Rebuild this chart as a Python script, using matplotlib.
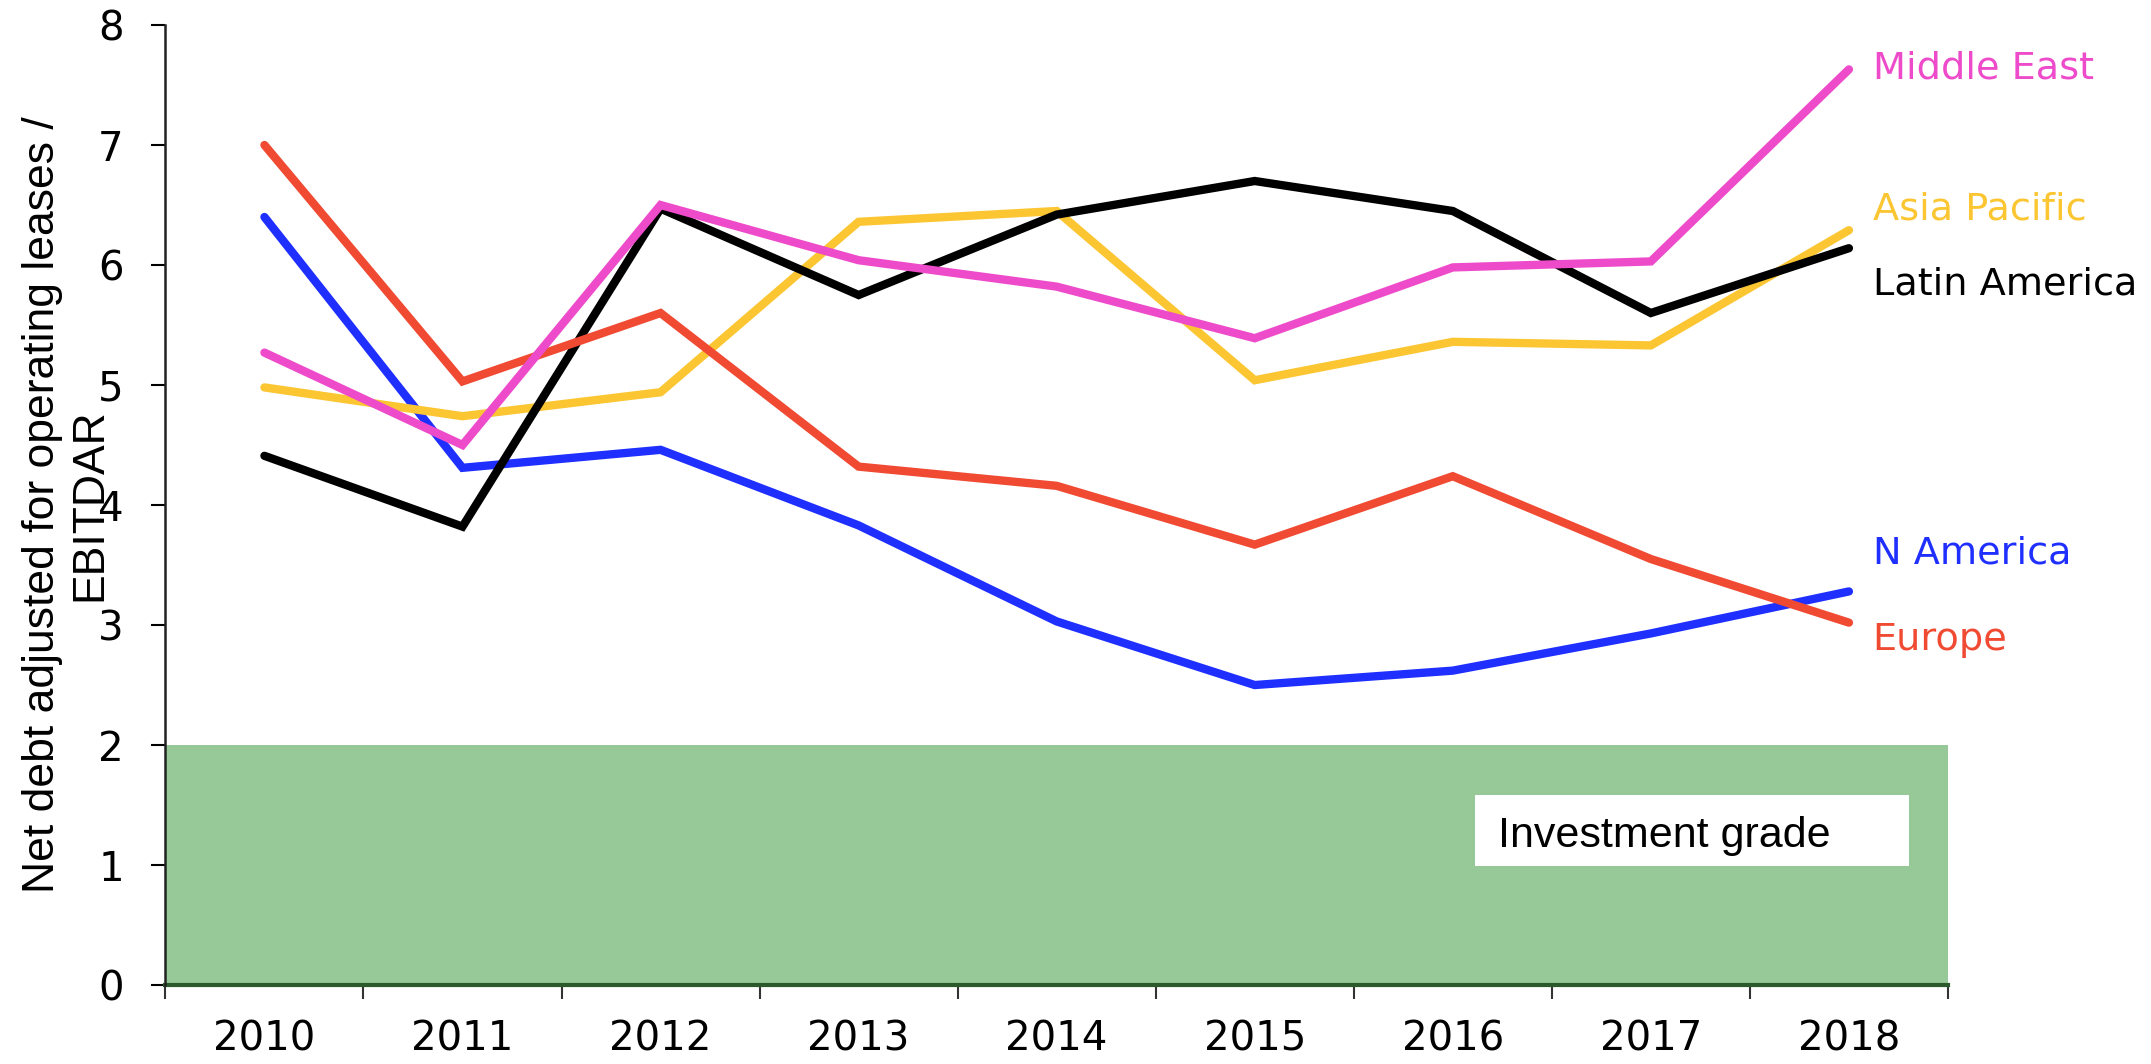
import matplotlib.pyplot as plt
import numpy as np

# Values
years = ["2010", "2011", "2012", "2013", "2014", "2015", "2016", "2017", "2018"]
europe = [7.00, 5.03, 5.60, 4.32, 4.16, 3.67, 4.24, 3.55, 3.02]
n_america = [6.40, 4.31, 4.46, 3.83, 3.03, 2.50, 2.62, 2.93, 3.28]
asia_pacific = [4.98, 4.74, 4.94, 6.36, 6.45, 5.04, 5.36, 5.33, 6.29]
latin_america = [4.41, 3.82, 6.47, 5.75, 6.42, 6.70, 6.45, 5.60, 6.14]
middle_east = [5.27, 4.50, 6.50, 6.04, 5.82, 5.39, 5.98, 6.03, 7.63]
investment_grade = 2

# draw order: first ones end up underneath
series = [
    ("N America", n_america, "#1f2fff"),
    ("Asia Pacific", asia_pacific, "#fbc632"),
    ("Latin America", latin_america, "#000000"),
    ("Europe", europe, "#f04a33"),
    ("Middle East", middle_east, "#ee4bcb"),
]
# vertical position of the end labels (data units)
label_y = {"Middle East": 7.67, "Asia Pacific": 6.50, "Latin America": 5.87,
           "N America": 3.63, "Europe": 2.91}

fig = plt.figure(figsize=(21.51, 10.64), dpi=100)
ax = fig.add_axes([0.0769, 0.0742, 0.8287, 0.9023])

x = np.arange(len(years))

# investment grade band
ax.fill_between([-0.5, len(years) - 0.5], 0, investment_grade,
                color="#96c997", lw=0, zorder=1)

for name, vals, col in series:
    ax.plot(x, vals, color=col, lw=6, solid_capstyle="round",
            solid_joinstyle="miter", zorder=3)
    ax.text(x[-1] + 0.12, label_y[name], name, color=col, fontsize=27.5,
            va="center_baseline", ha="left", clip_on=False)

# investment grade label box
ax.add_patch(plt.Rectangle((6.114, 0.99), 2.187, 0.59, facecolor="white",
                           edgecolor="none", zorder=4))
ax.text(6.23, 1.15, "Investment grade", fontsize=31, family="Liberation Sans",
        va="baseline", ha="left", zorder=5)

ax.set_xlim(-0.5, len(years) - 0.5)
ax.set_ylim(0, 8)

ax.set_xticks(np.arange(-0.5, len(years), 1.0))
ax.set_xticklabels([])
ax.set_xticks(x, minor=True)
ax.set_xticklabels(years, minor=True, fontsize=29)
ax.tick_params(axis="x", which="major", length=10, width=1.5, color="#333333")
ax.tick_params(axis="x", which="minor", length=0, pad=25)

ax.set_yticks(range(0, 9))
ax.tick_params(axis="y", length=10, width=1.5, labelsize=29, pad=20)

for s in ["top", "right"]:
    ax.spines[s].set_visible(False)
ax.spines["left"].set_linewidth(1.8)
ax.spines["left"].set_color("#222222")
ax.spines["bottom"].set_linewidth(3)
ax.spines["bottom"].set_color("#2c5a2c")
ax.spines["bottom"].set_zorder(2)

ax.set_ylabel("Net debt adjusted for operating leases /\nEBITDAR", fontsize=32,
              family="Liberation Sans")
ax.yaxis.set_label_coords(-0.031, 0.5)

fig.savefig("out.png", dpi=100)
